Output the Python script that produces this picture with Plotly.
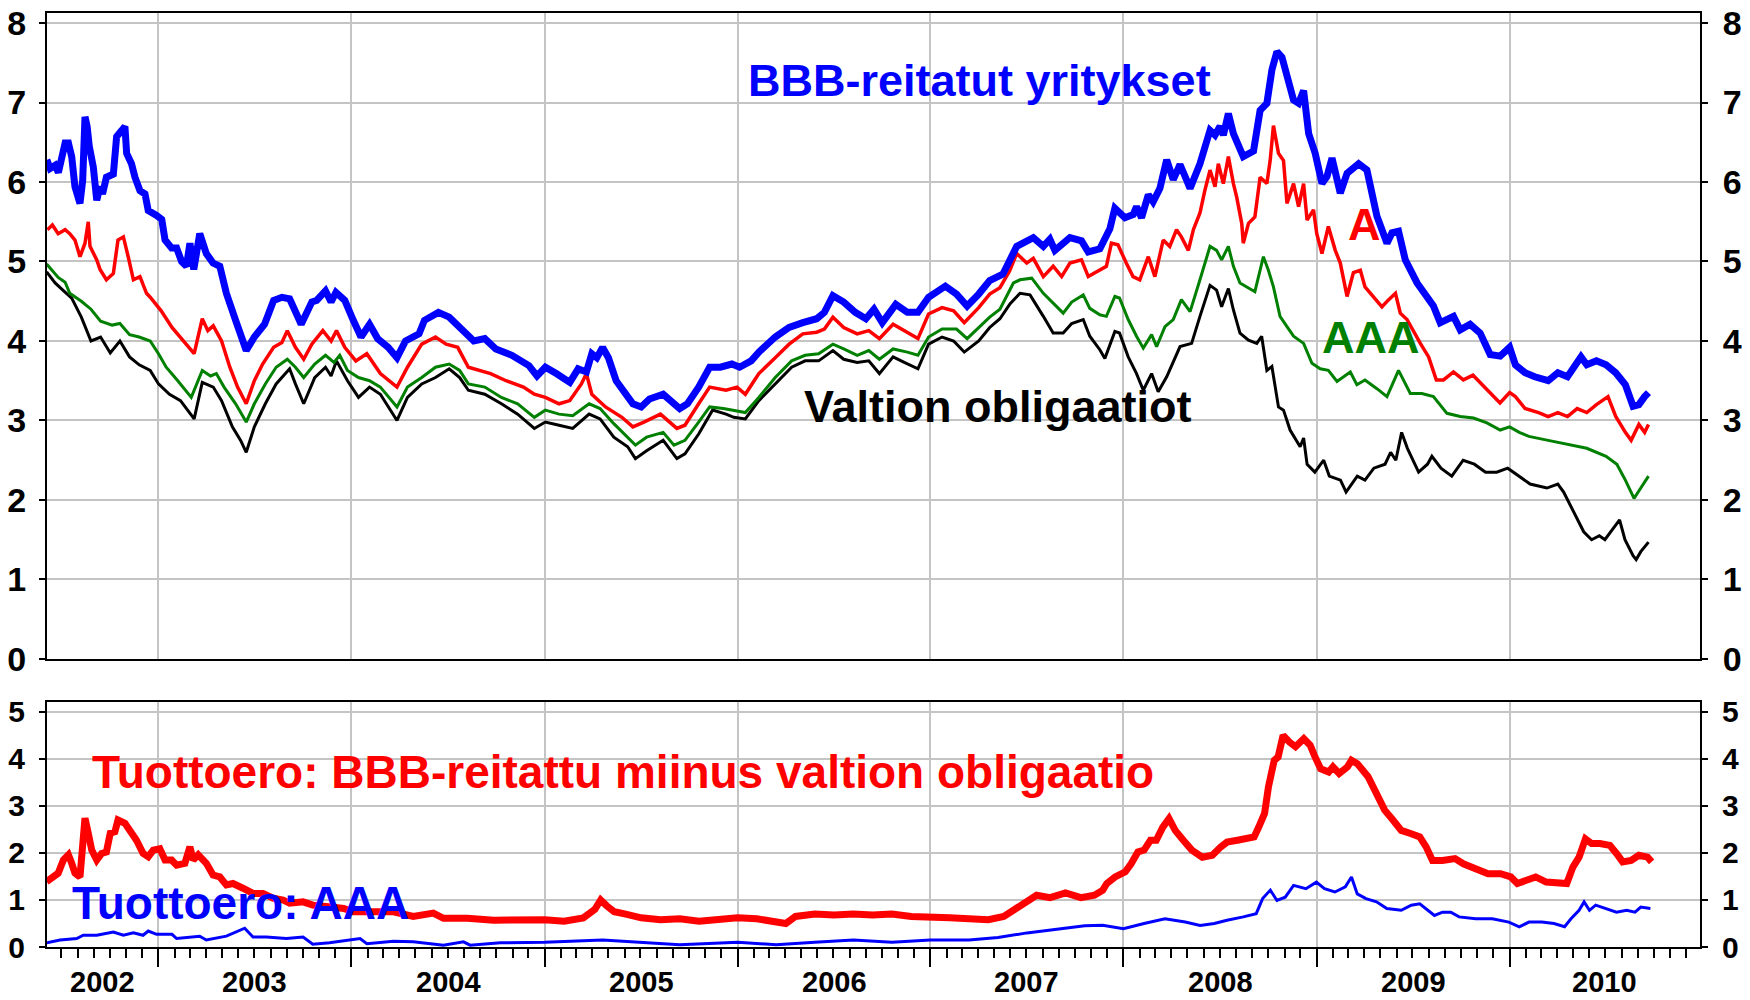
import pandas as pd
import plotly.graph_objects as go

# ---------------- data (decimal years, percent) ----------------
BBB_T = [2002.421, 2002.438, 2002.464, 2002.481, 2002.516, 2002.533, 2002.55, 2002.567, 2002.593, 2002.607,
         2002.619, 2002.63, 2002.641, 2002.662, 2002.68, 2002.697, 2002.71, 2002.73, 2002.766, 2002.783,
         2002.81, 2002.826, 2002.835, 2002.86, 2002.878, 2002.904, 2002.93, 2002.947, 2002.99, 2003.017,
         2003.034, 2003.068, 2003.094, 2003.12, 2003.145, 2003.163, 2003.183, 2003.214, 2003.248, 2003.283,
         2003.318, 2003.352, 2003.40, 2003.455, 2003.497, 2003.55, 2003.597, 2003.64, 2003.68, 2003.74,
         2003.795, 2003.82, 2003.866, 2003.895, 2003.92, 2003.966, 2004.01, 2004.05, 2004.094, 2004.136,
         2004.19, 2004.236, 2004.28, 2004.35, 2004.378, 2004.45, 2004.506, 2004.577, 2004.633, 2004.69,
         2004.747, 2004.83, 2004.918, 2004.96, 2005.003, 2005.06, 2005.13, 2005.173, 2005.216, 2005.244,
         2005.27, 2005.30, 2005.33, 2005.37, 2005.415, 2005.457, 2005.50, 2005.543, 2005.614, 2005.656,
         2005.70, 2005.74, 2005.798, 2005.855, 2005.91, 2005.97, 2006.01, 2006.07, 2006.11, 2006.195,
         2006.267, 2006.338, 2006.41, 2006.45, 2006.494, 2006.55, 2006.61, 2006.665, 2006.707, 2006.75,
         2006.82, 2006.88, 2006.935, 2006.99, 2007.077, 2007.135, 2007.19, 2007.25, 2007.307, 2007.375,
         2007.41, 2007.447, 2007.533, 2007.585, 2007.619, 2007.645, 2007.723, 2007.783, 2007.818, 2007.878,
         2007.93, 2007.956, 2008.008, 2008.051, 2008.068, 2008.094, 2008.129, 2008.154, 2008.189, 2008.224,
         2008.258, 2008.293, 2008.345, 2008.396, 2008.448, 2008.474, 2008.50, 2008.517, 2008.543, 2008.569,
         2008.62, 2008.673, 2008.707, 2008.742, 2008.768, 2008.794, 2008.82, 2008.846, 2008.88, 2008.906,
         2008.932, 2008.958, 2008.992, 2009.027, 2009.053, 2009.079, 2009.122, 2009.157, 2009.217, 2009.26,
         2009.312, 2009.364, 2009.39, 2009.424, 2009.459, 2009.52, 2009.571, 2009.605, 2009.64, 2009.709,
         2009.744, 2009.795, 2009.847, 2009.899, 2009.951, 2010.0, 2010.03, 2010.08, 2010.13, 2010.2,
         2010.25, 2010.3, 2010.37, 2010.4, 2010.45, 2010.5, 2010.55, 2010.6, 2010.64, 2010.67,
         2010.7, 2010.72]
BBB_V = [6.28, 6.17, 6.21, 6.12, 6.49, 6.49, 6.32, 5.94, 5.73, 6.02,
         6.82, 6.70, 6.45, 6.19, 5.77, 5.94, 5.85, 6.06, 6.10, 6.57,
         6.65, 6.70, 6.36, 6.23, 6.06, 5.89, 5.85, 5.64, 5.58, 5.53,
         5.27, 5.17, 5.17, 5.00, 4.94, 5.23, 4.90, 5.35, 5.10, 4.98,
         4.94, 4.60, 4.26, 3.88, 4.05, 4.21, 4.51, 4.55, 4.53, 4.21,
         4.49, 4.51, 4.63, 4.49, 4.61, 4.51, 4.26, 4.05, 4.21, 4.03,
         3.92, 3.79, 4.00, 4.09, 4.26, 4.36, 4.30, 4.13, 4.00, 4.03,
         3.90, 3.82, 3.69, 3.56, 3.67, 3.59, 3.48, 3.65, 3.61, 3.84,
         3.79, 3.92, 3.79, 3.50, 3.33, 3.21, 3.17, 3.27, 3.33, 3.23,
         3.15, 3.21, 3.42, 3.67, 3.67, 3.71, 3.67, 3.75, 3.86, 4.05,
         4.17, 4.23, 4.28, 4.36, 4.57, 4.49, 4.36, 4.28, 4.40, 4.23,
         4.46, 4.36, 4.36, 4.55, 4.69, 4.59, 4.44, 4.59, 4.76, 4.84,
         5.01, 5.19, 5.30, 5.19, 5.28, 5.14, 5.30, 5.26, 5.12, 5.16,
         5.41, 5.67, 5.55, 5.59, 5.69, 5.55, 5.84, 5.75, 5.92, 6.28,
         6.03, 6.22, 5.92, 6.23, 6.65, 6.59, 6.70, 6.59, 6.86, 6.61,
         6.32, 6.39, 6.90, 6.99, 7.41, 7.64, 7.57, 7.32, 7.03, 6.99,
         7.15, 6.61, 6.36, 5.98, 6.07, 6.30, 5.86, 6.11, 6.23, 6.15,
         5.57, 5.23, 5.36, 5.38, 5.02, 4.73, 4.56, 4.44, 4.23, 4.31,
         4.14, 4.21, 4.10, 3.83, 3.81, 3.92, 3.70, 3.60, 3.55, 3.50,
         3.60, 3.55, 3.80, 3.70, 3.75, 3.70, 3.60, 3.45, 3.18, 3.20,
         3.30, 3.35]

A_T = [2002.424, 2002.45, 2002.48, 2002.516, 2002.54, 2002.567, 2002.593, 2002.619, 2002.636, 2002.645,
       2002.68, 2002.697, 2002.73, 2002.766, 2002.79, 2002.818, 2002.843, 2002.87, 2002.904, 2002.938,
       2002.957, 2003.014, 2003.07, 2003.128, 2003.185, 2003.227, 2003.256, 2003.284, 2003.327, 2003.37,
       2003.41, 2003.455, 2003.497, 2003.54, 2003.597, 2003.64, 2003.668, 2003.71, 2003.753, 2003.795,
       2003.852, 2003.895, 2003.923, 2003.966, 2004.023, 2004.08, 2004.15, 2004.236, 2004.29, 2004.364,
       2004.435, 2004.49, 2004.55, 2004.605, 2004.66, 2004.72, 2004.80, 2004.89, 2004.946, 2005.003,
       2005.074, 2005.13, 2005.19, 2005.216, 2005.244, 2005.315, 2005.40, 2005.457, 2005.514, 2005.60,
       2005.685, 2005.727, 2005.798, 2005.855, 2005.94, 2005.997, 2006.04, 2006.11, 2006.195, 2006.267,
       2006.338, 2006.41, 2006.45, 2006.494, 2006.55, 2006.62, 2006.68, 2006.735, 2006.806, 2006.864,
       2006.935, 2006.99, 2007.06, 2007.12, 2007.175, 2007.25, 2007.307, 2007.36, 2007.41, 2007.447,
       2007.499, 2007.533, 2007.585, 2007.636, 2007.68, 2007.723, 2007.783, 2007.818, 2007.878, 2007.912,
       2007.938, 2007.972, 2008.015, 2008.05, 2008.085, 2008.129, 2008.163, 2008.206, 2008.24, 2008.275,
       2008.30, 2008.336, 2008.362, 2008.396, 2008.422, 2008.448, 2008.474, 2008.491, 2008.517, 2008.543,
       2008.569, 2008.586, 2008.612, 2008.62, 2008.647, 2008.68, 2008.707, 2008.742, 2008.759, 2008.776,
       2008.802, 2008.828, 2008.846, 2008.88, 2008.906, 2008.932, 2008.95, 2008.983, 2009.0, 2009.027,
       2009.06, 2009.096, 2009.122, 2009.157, 2009.19, 2009.226, 2009.25, 2009.295, 2009.338, 2009.373,
       2009.408, 2009.433, 2009.468, 2009.537, 2009.58, 2009.62, 2009.657, 2009.709, 2009.76, 2009.81,
       2009.864, 2009.916, 2009.95, 2010.0, 2010.03, 2010.08, 2010.15, 2010.2, 2010.25, 2010.3,
       2010.35, 2010.4, 2010.45, 2010.51, 2010.55, 2010.6, 2010.63, 2010.67, 2010.7, 2010.72]
A_V = [5.40, 5.46, 5.35, 5.40, 5.35, 5.27, 5.06, 5.23, 5.50, 5.19,
       5.02, 4.90, 4.77, 4.85, 5.27, 5.31, 5.06, 4.77, 4.81, 4.60,
       4.55, 4.38, 4.17, 4.00, 3.84, 4.28, 4.13, 4.19, 4.00, 3.67,
       3.42, 3.21, 3.50, 3.71, 3.92, 3.98, 4.13, 3.92, 3.77, 3.96,
       4.13, 4.00, 4.13, 3.92, 3.75, 3.84, 3.59, 3.42, 3.67, 3.96,
       4.05, 3.96, 3.92, 3.67, 3.63, 3.59, 3.50, 3.42, 3.33, 3.29,
       3.21, 3.25, 3.46, 3.59, 3.33, 3.17, 3.04, 2.92, 2.98, 3.08,
       2.90, 2.94, 3.21, 3.42, 3.38, 3.42, 3.33, 3.59, 3.79, 3.96,
       4.09, 4.11, 4.15, 4.30, 4.17, 4.09, 4.13, 4.03, 4.21, 4.13,
       4.03, 4.34, 4.42, 4.38, 4.23, 4.42, 4.59, 4.67, 4.88, 5.10,
       4.98, 5.04, 4.81, 4.94, 4.81, 4.98, 5.02, 4.81, 4.89, 4.94,
       5.23, 5.21, 4.98, 4.81, 4.77, 5.06, 4.81, 5.27, 5.19, 5.40,
       5.31, 5.14, 5.40, 5.61, 5.90, 6.15, 5.94, 6.23, 5.98, 6.32,
       5.98, 5.81, 5.48, 5.23, 5.48, 5.56, 6.06, 5.98, 6.27, 6.71,
       6.36, 6.27, 5.73, 5.98, 5.69, 5.98, 5.52, 5.65, 5.35, 5.10,
       5.44, 5.14, 4.98, 4.56, 4.86, 4.89, 4.68, 4.56, 4.43, 4.52,
       4.60, 4.35, 4.27, 3.97, 3.80, 3.51, 3.51, 3.61, 3.51, 3.57,
       3.43, 3.30, 3.22, 3.35, 3.30, 3.15, 3.10, 3.05, 3.10, 3.05,
       3.15, 3.10, 3.20, 3.30, 3.05, 2.85, 2.75, 2.95, 2.85, 2.95]

AAA_T = [2002.42, 2002.48, 2002.516, 2002.54, 2002.6, 2002.65, 2002.7, 2002.76, 2002.8, 2002.85,
         2002.9, 2002.957, 2003.0, 2003.04, 2003.10, 2003.17, 2003.227, 2003.27, 2003.30, 2003.34,
         2003.40, 2003.455, 2003.497, 2003.554, 2003.61, 2003.668, 2003.71, 2003.753, 2003.81, 2003.866,
         2003.91, 2003.94, 2003.98, 2004.037, 2004.094, 2004.15, 2004.236, 2004.29, 2004.364, 2004.435,
         2004.506, 2004.56, 2004.605, 2004.69, 2004.776, 2004.86, 2004.946, 2005.003, 2005.074, 2005.145,
         2005.23, 2005.287, 2005.358, 2005.43, 2005.47, 2005.528, 2005.614, 2005.67, 2005.727, 2005.798,
         2005.855, 2005.926, 2005.98, 2006.04, 2006.11, 2006.195, 2006.28, 2006.35, 2006.42, 2006.494,
         2006.55, 2006.62, 2006.68, 2006.735, 2006.806, 2006.88, 2006.935, 2006.99, 2007.06, 2007.135,
         2007.19, 2007.25, 2007.307, 2007.36, 2007.43, 2007.464, 2007.525, 2007.585, 2007.636, 2007.688,
         2007.732, 2007.792, 2007.826, 2007.878, 2007.912, 2007.956, 2007.98, 2008.025, 2008.068, 2008.103,
         2008.146, 2008.172, 2008.215, 2008.258, 2008.30, 2008.345, 2008.396, 2008.448, 2008.482, 2008.508,
         2008.543, 2008.569, 2008.603, 2008.638, 2008.68, 2008.724, 2008.75, 2008.776, 2008.81, 2008.846,
         2008.88, 2008.932, 2008.975, 2009.018, 2009.06, 2009.105, 2009.174, 2009.208, 2009.25, 2009.312,
         2009.364, 2009.424, 2009.485, 2009.545, 2009.605, 2009.675, 2009.744, 2009.813, 2009.882, 2009.951,
         2010.0, 2010.05, 2010.1, 2010.2, 2010.3, 2010.4, 2010.5, 2010.556, 2010.6, 2010.645,
         2010.68, 2010.72]
AAA_V = [4.97, 4.80, 4.74, 4.60, 4.50, 4.40, 4.25, 4.20, 4.22, 4.08,
         4.05, 4.00, 3.84, 3.67, 3.50, 3.29, 3.63, 3.56, 3.59, 3.42,
         3.21, 2.98, 3.21, 3.46, 3.67, 3.77, 3.67, 3.54, 3.71, 3.82,
         3.73, 3.82, 3.63, 3.54, 3.50, 3.42, 3.17, 3.42, 3.54, 3.67,
         3.71, 3.63, 3.46, 3.42, 3.29, 3.21, 3.04, 3.13, 3.08, 3.06,
         3.21, 3.15, 2.96, 2.79, 2.69, 2.79, 2.85, 2.69, 2.75, 2.98,
         3.17, 3.15, 3.13, 3.10, 3.29, 3.54, 3.75, 3.82, 3.84, 3.96,
         3.90, 3.82, 3.88, 3.77, 3.90, 3.86, 3.82, 4.05, 4.15, 4.15,
         4.03, 4.17, 4.30, 4.40, 4.73, 4.77, 4.79, 4.60, 4.47, 4.35,
         4.49, 4.58, 4.41, 4.33, 4.31, 4.56, 4.54, 4.27, 4.06, 3.91,
         4.08, 3.93, 4.18, 4.27, 4.52, 4.37, 4.77, 5.19, 5.14, 5.02,
         5.19, 4.94, 4.73, 4.68, 4.62, 5.06, 4.89, 4.68, 4.31, 4.18,
         4.06, 3.97, 3.72, 3.65, 3.63, 3.49, 3.61, 3.45, 3.51, 3.40,
         3.30, 3.63, 3.34, 3.34, 3.30, 3.09, 3.05, 3.03, 2.97, 2.88,
         2.92, 2.85, 2.80, 2.75, 2.70, 2.65, 2.55, 2.45, 2.25, 2.02,
         2.15, 2.30]

GOV_T = [2002.42, 2002.464, 2002.5, 2002.525, 2002.55, 2002.6, 2002.65, 2002.7, 2002.75, 2002.8,
         2002.85, 2002.9, 2002.957, 2003.0, 2003.057, 2003.114, 2003.185, 2003.227, 2003.284, 2003.327,
         2003.383, 2003.426, 2003.455, 2003.497, 2003.554, 2003.61, 2003.68, 2003.71, 2003.753, 2003.81,
         2003.866, 2003.895, 2003.923, 2003.98, 2004.037, 2004.094, 2004.15, 2004.236, 2004.29, 2004.364,
         2004.435, 2004.506, 2004.56, 2004.605, 2004.69, 2004.776, 2004.86, 2004.946, 2005.003, 2005.074,
         2005.145, 2005.23, 2005.287, 2005.358, 2005.43, 2005.47, 2005.528, 2005.614, 2005.685, 2005.727,
         2005.798, 2005.87, 2005.94, 2005.98, 2006.04, 2006.11, 2006.195, 2006.28, 2006.35, 2006.42,
         2006.494, 2006.55, 2006.62, 2006.68, 2006.735, 2006.806, 2006.864, 2006.935, 2006.99, 2007.06,
         2007.12, 2007.175, 2007.25, 2007.307, 2007.36, 2007.413, 2007.464, 2007.516, 2007.585, 2007.636,
         2007.688, 2007.732, 2007.792, 2007.826, 2007.878, 2007.904, 2007.956, 2007.98, 2008.025, 2008.068,
         2008.103, 2008.146, 2008.18, 2008.224, 2008.293, 2008.353, 2008.396, 2008.448, 2008.482, 2008.508,
         2008.543, 2008.569, 2008.603, 2008.647, 2008.69, 2008.715, 2008.742, 2008.768, 2008.802, 2008.828,
         2008.862, 2008.914, 2008.932, 2008.95, 2008.99, 2009.036, 2009.065, 2009.123, 2009.152, 2009.21,
         2009.25, 2009.296, 2009.354, 2009.383, 2009.41, 2009.44, 2009.47, 2009.50, 2009.528, 2009.574,
         2009.597, 2009.644, 2009.70, 2009.759, 2009.817, 2009.875, 2009.933, 2009.99, 2010.05, 2010.106,
         2010.193, 2010.25, 2010.28, 2010.34, 2010.384, 2010.425, 2010.465, 2010.494, 2010.54, 2010.57,
         2010.598, 2010.64, 2010.656, 2010.68, 2010.72]
GOV_V = [4.87, 4.73, 4.65, 4.60, 4.54, 4.30, 4.00, 4.05, 3.85, 4.00,
         3.80, 3.70, 3.63, 3.46, 3.33, 3.25, 3.02, 3.48, 3.42, 3.25,
         2.92, 2.75, 2.60, 2.92, 3.21, 3.46, 3.65, 3.46, 3.21, 3.54,
         3.67, 3.56, 3.75, 3.50, 3.29, 3.42, 3.33, 3.00, 3.29, 3.46,
         3.54, 3.65, 3.54, 3.38, 3.33, 3.21, 3.08, 2.90, 2.98, 2.94,
         2.90, 3.08, 3.02, 2.79, 2.67, 2.52, 2.62, 2.75, 2.52, 2.58,
         2.83, 3.13, 3.08, 3.04, 3.02, 3.25, 3.46, 3.67, 3.75, 3.75,
         3.88, 3.77, 3.73, 3.75, 3.59, 3.80, 3.73, 3.65, 3.96, 4.05,
         4.00, 3.86, 4.00, 4.17, 4.28, 4.47, 4.60, 4.58, 4.31, 4.10,
         4.10, 4.22, 4.27, 4.06, 3.89, 3.78, 4.12, 4.10, 3.80, 3.59,
         3.38, 3.59, 3.36, 3.55, 3.93, 3.97, 4.31, 4.70, 4.64, 4.43,
         4.66, 4.39, 4.10, 4.01, 3.97, 4.06, 3.63, 3.68, 3.17, 3.13,
         2.88, 2.67, 2.78, 2.45, 2.35, 2.50, 2.30, 2.25, 2.10, 2.30,
         2.25, 2.40, 2.45, 2.60, 2.50, 2.85, 2.65, 2.50, 2.35, 2.45,
         2.55, 2.40, 2.30, 2.50, 2.45, 2.35, 2.35, 2.40, 2.30, 2.20,
         2.15, 2.20, 2.10, 1.80, 1.60, 1.50, 1.55, 1.50, 1.65, 1.75,
         1.50, 1.30, 1.25, 1.35, 1.47]

SPREAD_BBB_T = [2002.42, 2002.455, 2002.48, 2002.507, 2002.533, 2002.55, 2002.567, 2002.593, 2002.607, 2002.619,
                2002.636, 2002.654, 2002.68, 2002.705, 2002.73, 2002.75, 2002.774, 2002.79, 2002.826, 2002.852,
                2002.886, 2002.92, 2002.947, 2002.973, 2003.007, 2003.034, 2003.068, 2003.094, 2003.137, 2003.163,
                2003.18, 2003.206, 2003.248, 2003.283, 2003.318, 2003.352, 2003.386, 2003.438, 2003.49, 2003.542,
                2003.594, 2003.646, 2003.68, 2003.75, 2003.80, 2003.87, 2003.96, 2004.01, 2004.097, 2004.218,
                2004.32, 2004.424, 2004.476, 2004.60, 2004.735, 2004.8, 2004.9, 2005.0, 2005.1, 2005.2,
                2005.26, 2005.29, 2005.32, 2005.36, 2005.42, 2005.5, 2005.6, 2005.7, 2005.8, 2005.9,
                2006.0, 2006.1, 2006.2, 2006.25, 2006.3, 2006.4, 2006.5, 2006.6, 2006.7, 2006.8,
                2006.9, 2007.0, 2007.1, 2007.2, 2007.3, 2007.38, 2007.45, 2007.5, 2007.55, 2007.62,
                2007.7, 2007.78, 2007.85, 2007.893, 2007.914, 2007.957, 2008.01, 2008.04, 2008.075, 2008.107,
                2008.14, 2008.17, 2008.204, 2008.236, 2008.268, 2008.31, 2008.354, 2008.408, 2008.46, 2008.504,
                2008.536, 2008.59, 2008.633, 2008.676, 2008.70, 2008.73, 2008.75, 2008.78, 2008.80, 2008.826,
                2008.858, 2008.89, 2008.933, 2008.966, 2008.987, 2009.02, 2009.062, 2009.084, 2009.116, 2009.159,
                2009.18, 2009.21, 2009.266, 2009.31, 2009.352, 2009.395, 2009.438, 2009.49, 2009.534, 2009.567,
                2009.60, 2009.652, 2009.717, 2009.76, 2009.824, 2009.888, 2009.953, 2010.006, 2010.04, 2010.08,
                2010.135, 2010.19, 2010.24, 2010.296, 2010.328, 2010.36, 2010.393, 2010.425, 2010.468, 2010.52,
                2010.554, 2010.586, 2010.63, 2010.67, 2010.715, 2010.736]
SPREAD_BBB_V = [1.39, 1.49, 1.57, 1.85, 1.96, 1.78, 1.57, 1.49, 2.13, 2.74,
                2.42, 2.06, 1.85, 1.99, 2.02, 2.42, 2.45, 2.70, 2.63, 2.48,
                2.27, 1.99, 1.92, 2.06, 2.09, 1.85, 1.85, 1.74, 1.78, 2.13,
                1.85, 1.96, 1.78, 1.53, 1.49, 1.32, 1.35, 1.25, 1.14, 1.14,
                1.04, 1.00, 0.93, 0.96, 0.89, 0.86, 0.82, 0.75, 0.75, 0.75,
                0.65, 0.72, 0.61, 0.61, 0.57, 0.58, 0.60, 0.58, 0.55, 0.62,
                0.80, 1.00, 0.88, 0.75, 0.70, 0.62, 0.58, 0.60, 0.55, 0.60,
                0.62, 0.60, 0.52, 0.50, 0.65, 0.70, 0.68, 0.70, 0.68, 0.70,
                0.65, 0.62, 0.62, 0.60, 0.58, 0.65, 0.85, 0.95, 1.10, 1.05,
                1.15, 1.05, 1.10, 1.21, 1.35, 1.49, 1.60, 1.77, 2.02, 2.06,
                2.27, 2.27, 2.55, 2.73, 2.48, 2.27, 2.06, 1.91, 1.95, 2.13,
                2.23, 2.27, 2.30, 2.34, 2.55, 2.84, 3.40, 3.97, 4.04, 4.50,
                4.36, 4.26, 4.43, 4.29, 4.08, 3.79, 3.72, 3.83, 3.69, 3.83,
                3.97, 3.90, 3.62, 3.26, 2.91, 2.70, 2.48, 2.41, 2.34, 2.13,
                1.84, 1.84, 1.88, 1.77, 1.67, 1.56, 1.56, 1.49, 1.35, 1.42,
                1.49, 1.38, 1.38, 1.35, 1.70, 1.91, 2.30, 2.20, 2.20, 2.16,
                1.99, 1.81, 1.84, 1.95, 1.91, 1.81]

SPREAD_AAA_T = [2002.42, 2002.49, 2002.576, 2002.61, 2002.68, 2002.766, 2002.818, 2002.87, 2002.92, 2002.947,
                2002.99, 2003.07, 2003.094, 2003.214, 2003.248, 2003.352, 2003.447, 2003.49, 2003.559, 2003.663,
                2003.75, 2003.80, 2003.887, 2003.99, 2004.045, 2004.08, 2004.218, 2004.32, 2004.424, 2004.476,
                2004.58, 2004.614, 2004.77, 2005.0, 2005.3, 2005.5, 2005.7, 2006.0, 2006.2, 2006.4,
                2006.6, 2006.8, 2007.0, 2007.2, 2007.35, 2007.5, 2007.6, 2007.7, 2007.8, 2007.893,
                2008.0, 2008.107, 2008.215, 2008.32, 2008.397, 2008.47, 2008.536, 2008.62, 2008.687, 2008.72,
                2008.76, 2008.794, 2008.837, 2008.88, 2008.944, 2008.998, 2009.04, 2009.094, 2009.148, 2009.18,
                2009.21, 2009.255, 2009.31, 2009.363, 2009.438, 2009.49, 2009.534, 2009.61, 2009.652, 2009.695,
                2009.738, 2009.824, 2009.91, 2009.996, 2010.05, 2010.10, 2010.167, 2010.23, 2010.285, 2010.318,
                2010.36, 2010.386, 2010.414, 2010.446, 2010.50, 2010.554, 2010.607, 2010.65, 2010.68, 2010.73]
SPREAD_AAA_V = [0.09, 0.15, 0.18, 0.25, 0.25, 0.32, 0.25, 0.30, 0.25, 0.34,
                0.27, 0.27, 0.18, 0.23, 0.15, 0.23, 0.40, 0.21, 0.21, 0.18,
                0.21, 0.06, 0.09, 0.15, 0.18, 0.07, 0.12, 0.11, 0.07, 0.04,
                0.11, 0.04, 0.09, 0.10, 0.15, 0.10, 0.05, 0.10, 0.05, 0.10,
                0.15, 0.10, 0.15, 0.15, 0.20, 0.30, 0.35, 0.40, 0.45, 0.46,
                0.39, 0.50, 0.60, 0.53, 0.46, 0.50, 0.57, 0.64, 0.71, 1.03,
                1.21, 0.99, 1.06, 1.31, 1.24, 1.38, 1.24, 1.17, 1.28, 1.49,
                1.13, 1.03, 0.96, 0.82, 0.78, 0.89, 0.92, 0.67, 0.74, 0.74,
                0.64, 0.60, 0.60, 0.53, 0.43, 0.53, 0.53, 0.50, 0.43, 0.60,
                0.78, 0.96, 0.78, 0.89, 0.82, 0.74, 0.78, 0.74, 0.85, 0.82]

YEARS = [2002, 2003, 2004, 2005, 2006, 2007, 2008, 2009, 2010]
X_START, X_END = 2002.422, 2010.987


def to_date(d):
    y = int(d)
    start = pd.Timestamp(year=y, month=1, day=1)
    end = pd.Timestamp(year=y + 1, month=1, day=1)
    return start + (end - start) * (d - y)


def dates(lst):
    return [to_date(v) for v in lst]


FONT = "Liberation Sans, Arial, sans-serif"
GRID = "#c4c4c4"

fig = go.Figure()


def add(t, v, color, width, yaxis, xaxis):
    fig.add_trace(go.Scatter(x=dates(t), y=v, mode="lines",
                             line=dict(color=color, width=width),
                             xaxis=xaxis, yaxis=yaxis, showlegend=False,
                             hoverinfo="x+y"))


# top panel
add(GOV_T, GOV_V, "#000000", 3, "y", "x")
add(AAA_T, AAA_V, "#008000", 3, "y", "x")
add(A_T, A_V, "#ff0000", 3.5, "y", "x")
add(BBB_T, BBB_V, "#0000ff", 7, "y", "x")
# bottom panel
add(SPREAD_AAA_T, SPREAD_AAA_V, "#0000ff", 3, "y2", "x2")
add(SPREAD_BBB_T, SPREAD_BBB_V, "#ff0000", 7, "y2", "x2")

# invisible helpers so that right-hand axes are drawn
fig.add_trace(go.Scatter(x=[to_date(X_START)], y=[0], mode="markers", marker=dict(opacity=0),
                         xaxis="x", yaxis="y3", showlegend=False, hoverinfo="skip"))
fig.add_trace(go.Scatter(x=[to_date(X_START)], y=[0], mode="markers", marker=dict(opacity=0),
                         xaxis="x2", yaxis="y4", showlegend=False, hoverinfo="skip"))

xr = [to_date(X_START), to_date(X_END)]
top_dom = [0.3084, 1.0]
bot_dom = [0.0, 0.2623]

common_x = dict(type="date", range=xr, showgrid=True, gridcolor=GRID, gridwidth=2,
                dtick="M12", tick0="2003-01-01", showline=True, linecolor="black",
                linewidth=2, mirror=True, showticklabels=False, zeroline=False,
                automargin=False)

top_tick = dict(family=FONT, size=34, color="black", weight="bold")
bot_tick = dict(family=FONT, size=30, color="black", weight="bold")

yax_common = dict(dtick=1, tick0=0, showline=True, linecolor="black", linewidth=2,
                  ticks="outside", ticklen=6, tickwidth=2, tickcolor="black",
                  zeroline=False, automargin=False, ticklabeloverflow="allow")

fig.update_layout(
    width=1750, height=1000,
    margin=dict(l=47, r=50, t=13, b=53, autoexpand=False),
    paper_bgcolor="white", plot_bgcolor="white",
    xaxis=dict(**common_x, domain=[0, 1], anchor="y", ticks=""),
    xaxis2=dict(**common_x, domain=[0, 1], anchor="y2", ticks="outside",
                ticklen=18, tickwidth=2, tickcolor="black",
                minor=dict(dtick="M1", ticks="outside", ticklen=9, tickwidth=2,
                           tickcolor="black", showgrid=False)),
    yaxis=dict(**yax_common, domain=top_dom, range=[0, 8.126], showgrid=True,
               gridcolor=GRID, gridwidth=2, mirror=True, tickfont=top_tick,
               anchor="x", ticklabelstandoff=6),
    yaxis3=dict(**yax_common, overlaying="y", side="right", range=[0, 8.126],
                showgrid=False, tickfont=top_tick, anchor="x", ticklabelstandoff=8),
    yaxis2=dict(**yax_common, domain=bot_dom, range=[0, 5.21], showgrid=True,
                gridcolor=GRID, gridwidth=2, mirror=True, tickfont=bot_tick,
                anchor="x2", ticklabelstandoff=8),
    yaxis4=dict(**yax_common, overlaying="y2", side="right", range=[0, 5.21],
                showgrid=False, tickfont=bot_tick, anchor="x2", ticklabelstandoff=8),
)

ann_font = lambda c, s=45: dict(family=FONT, size=s, color=c, weight="bold")
annotations = [
    dict(text="BBB-reitatut yritykset", x=to_date(2007.256), y=7.28, xref="x", yref="y",
         xanchor="center", yanchor="middle", showarrow=False, font=ann_font("#0000ff")),
    dict(text="A", x=to_date(2009.25), y=5.47, xref="x", yref="y",
         xanchor="center", yanchor="middle", showarrow=False, font=ann_font("#ff0000")),
    dict(text="AAA", x=to_date(2009.28), y=4.05, xref="x", yref="y",
         xanchor="center", yanchor="middle", showarrow=False, font=ann_font("#008000")),
    dict(text="Valtion obligaatiot", x=to_date(2007.35), y=3.17, xref="x", yref="y",
         xanchor="center", yanchor="middle", showarrow=False, font=ann_font("#000000")),
    dict(text="Tuottoero: BBB-reitattu miinus valtion obligaatio", x=to_date(2002.645), y=3.72,
         xref="x2", yref="y2", xanchor="left", yanchor="middle", showarrow=False,
         font=ann_font("#ff0000", 46)),
    dict(text="Tuottoero: AAA", x=to_date(2002.541), y=0.94, xref="x2", yref="y2",
         xanchor="left", yanchor="middle", showarrow=False, font=ann_font("#0000ff", 46)),
]
for yv in YEARS:
    left = max(yv, X_START)
    right = min(yv + 1, X_END)
    annotations.append(dict(text=str(yv), x=to_date((left + right) / 2), y=-0.0375,
                            xref="x2", yref="paper", xanchor="center", yanchor="middle",
                            showarrow=False,
                            font=dict(family=FONT, size=29, color="black", weight="bold")))
fig.update_layout(annotations=annotations)

# remove the default 8px page margin so the 1750x1000 figure fills the window exactly
fig.write_html("out.html", config={"displayModeBar": False},
               post_script="document.body.style.margin='0px';")
